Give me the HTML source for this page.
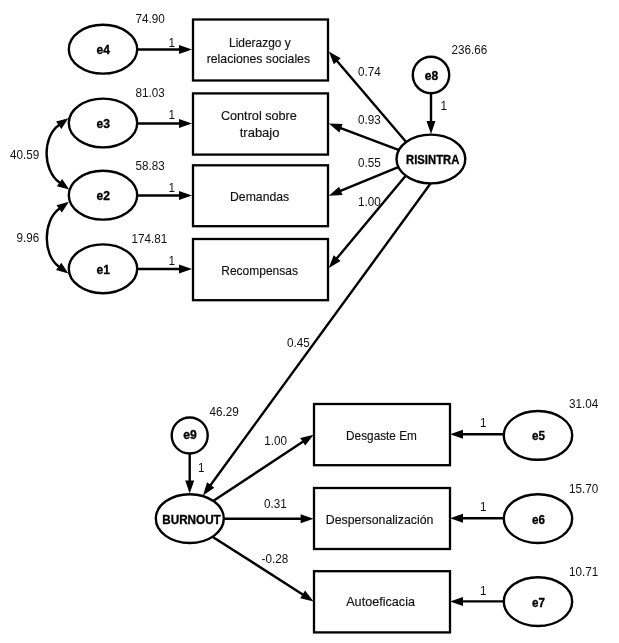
<!DOCTYPE html>
<html><head><meta charset="utf-8"><style>
html,body{margin:0;padding:0;background:#fff;}
svg{display:block;will-change:transform;}
.n{font-family:"Liberation Sans",sans-serif;fill:#111;}
.b{font-family:"Liberation Sans",sans-serif;fill:#111;stroke:#111;stroke-width:0.15px;}
.bl{font-family:"Liberation Sans",sans-serif;font-weight:bold;fill:#000;stroke:#000;stroke-width:0.35px;}
</style></head><body>
<svg width="619" height="643" viewBox="0 0 619 643">
<rect x="193" y="19.5" width="135" height="61.0" fill="#fff" stroke="#000" stroke-width="2.3"/>
<rect x="193" y="93.4" width="135" height="61.19999999999999" fill="#fff" stroke="#000" stroke-width="2.3"/>
<rect x="193" y="165.3" width="135" height="60.89999999999998" fill="#fff" stroke="#000" stroke-width="2.3"/>
<rect x="193" y="239" width="135" height="61.19999999999999" fill="#fff" stroke="#000" stroke-width="2.3"/>
<rect x="314" y="404" width="136" height="61.19999999999999" fill="#fff" stroke="#000" stroke-width="2.3"/>
<rect x="314" y="488" width="136" height="61" fill="#fff" stroke="#000" stroke-width="2.3"/>
<rect x="314" y="571.2" width="136" height="61.19999999999993" fill="#fff" stroke="#000" stroke-width="2.3"/>
<path d="M59.50,124.67 L58.69,125.25 C42.04,137.35 42.84,170.45 59.49,182.55 L60.30,183.13" fill="none" stroke="#000" stroke-width="2.4"/>
<polygon points="68.40,118.20 61.34,128.89 56.05,121.61" fill="#000"/>
<polygon points="69.20,189.60 56.85,186.19 62.14,178.91" fill="#000"/>
<path d="M60.00,208.27 L59.19,208.85 C43.00,220.62 42.50,254.68 58.69,266.45 L59.50,267.03" fill="none" stroke="#000" stroke-width="2.4"/>
<polygon points="68.90,201.80 61.84,212.49 56.55,205.21" fill="#000"/>
<polygon points="68.40,273.50 56.05,270.09 61.34,262.81" fill="#000"/>
<line x1="134.00" y1="49.50" x2="180.00" y2="49.50" stroke="#000" stroke-width="2.4"/>
<polygon points="192.00,49.50 179.00,54.00 179.00,45.00" fill="#000"/>
<line x1="134.00" y1="123.50" x2="180.00" y2="123.50" stroke="#000" stroke-width="2.4"/>
<polygon points="192.00,123.50 179.00,128.00 179.00,119.00" fill="#000"/>
<line x1="134.00" y1="195.50" x2="180.00" y2="195.50" stroke="#000" stroke-width="2.4"/>
<polygon points="192.00,195.50 179.00,200.00 179.00,191.00" fill="#000"/>
<line x1="134.00" y1="269.00" x2="180.00" y2="269.00" stroke="#000" stroke-width="2.4"/>
<polygon points="192.00,269.00 179.00,273.50 179.00,264.50" fill="#000"/>
<line x1="408.10" y1="144.24" x2="336.59" y2="60.52" stroke="#000" stroke-width="2.4"/>
<polygon points="328.80,51.40 340.66,58.36 333.82,64.21" fill="#000"/>
<line x1="401.74" y1="151.01" x2="340.03" y2="127.82" stroke="#000" stroke-width="2.4"/>
<polygon points="328.80,123.60 342.55,123.96 339.39,132.38" fill="#000"/>
<line x1="401.30" y1="165.77" x2="339.89" y2="191.21" stroke="#000" stroke-width="2.4"/>
<polygon points="328.80,195.80 339.09,186.67 342.53,194.98" fill="#000"/>
<line x1="407.56" y1="173.53" x2="336.48" y2="258.78" stroke="#000" stroke-width="2.4"/>
<polygon points="328.80,268.00 333.67,255.13 340.58,260.90" fill="#000"/>
<line x1="431.00" y1="90.00" x2="431.00" y2="122.00" stroke="#000" stroke-width="2.4"/>
<polygon points="431.00,134.00 426.50,121.00 435.50,121.00" fill="#000"/>
<line x1="432.16" y1="181.27" x2="210.07" y2="485.80" stroke="#000" stroke-width="2.4"/>
<polygon points="203.00,495.50 207.02,482.34 214.30,487.65" fill="#000"/>
<line x1="189.70" y1="450.00" x2="189.70" y2="481.50" stroke="#000" stroke-width="2.4"/>
<polygon points="189.70,493.50 185.20,480.50 194.20,480.50" fill="#000"/>
<line x1="210.86" y1="502.50" x2="303.58" y2="441.31" stroke="#000" stroke-width="2.4"/>
<polygon points="313.60,434.70 305.23,445.62 300.27,438.10" fill="#000"/>
<line x1="220.70" y1="518.80" x2="301.60" y2="518.80" stroke="#000" stroke-width="2.4"/>
<polygon points="313.60,518.80 300.60,523.30 300.60,514.30" fill="#000"/>
<line x1="210.83" y1="535.64" x2="303.49" y2="594.93" stroke="#000" stroke-width="2.4"/>
<polygon points="313.60,601.40 300.22,598.18 305.07,590.60" fill="#000"/>
<line x1="507.00" y1="434.20" x2="462.00" y2="434.20" stroke="#000" stroke-width="2.4"/>
<polygon points="450.00,434.20 463.00,429.70 463.00,438.70" fill="#000"/>
<line x1="507.00" y1="518.20" x2="462.00" y2="518.20" stroke="#000" stroke-width="2.4"/>
<polygon points="450.00,518.20 463.00,513.70 463.00,522.70" fill="#000"/>
<line x1="507.00" y1="601.40" x2="462.00" y2="601.40" stroke="#000" stroke-width="2.4"/>
<polygon points="450.00,601.40 463.00,596.90 463.00,605.90" fill="#000"/>
<ellipse cx="103" cy="49.2" rx="34.2" ry="24.4" fill="#fff" stroke="#000" stroke-width="2.4"/>
<ellipse cx="103" cy="123" rx="34.2" ry="24.4" fill="#fff" stroke="#000" stroke-width="2.4"/>
<ellipse cx="103" cy="195.2" rx="34.2" ry="24.4" fill="#fff" stroke="#000" stroke-width="2.4"/>
<ellipse cx="103" cy="268.8" rx="34.2" ry="24.4" fill="#fff" stroke="#000" stroke-width="2.4"/>
<ellipse cx="430.9" cy="159" rx="34.4" ry="24.4" fill="#fff" stroke="#000" stroke-width="2.4"/>
<circle cx="431" cy="75" r="18.2" fill="#fff" stroke="#000" stroke-width="2.4"/>
<ellipse cx="189.8" cy="518.6" rx="34" ry="24.4" fill="#fff" stroke="#000" stroke-width="2.4"/>
<circle cx="189.7" cy="435.5" r="18" fill="#fff" stroke="#000" stroke-width="2.4"/>
<ellipse cx="538" cy="435.4" rx="34.2" ry="24.4" fill="#fff" stroke="#000" stroke-width="2.4"/>
<ellipse cx="538" cy="518.6" rx="34.2" ry="24.4" fill="#fff" stroke="#000" stroke-width="2.4"/>
<ellipse cx="538" cy="601.6" rx="34.2" ry="24.4" fill="#fff" stroke="#000" stroke-width="2.4"/>
<text x="103.3" y="54.300000000000004" class="bl" text-anchor="middle" textLength="13.4" lengthAdjust="spacingAndGlyphs" style="font-size:12.8px">e4</text>
<text x="103.3" y="128.1" class="bl" text-anchor="middle" textLength="13.4" lengthAdjust="spacingAndGlyphs" style="font-size:12.8px">e3</text>
<text x="103.3" y="200.29999999999998" class="bl" text-anchor="middle" textLength="13.4" lengthAdjust="spacingAndGlyphs" style="font-size:12.8px">e2</text>
<text x="103.3" y="273.90000000000003" class="bl" text-anchor="middle" textLength="13.4" lengthAdjust="spacingAndGlyphs" style="font-size:12.8px">e1</text>
<text x="432.7" y="164.2" class="bl" text-anchor="middle" textLength="53.2" lengthAdjust="spacingAndGlyphs" style="font-size:12.8px">RISINTRA</text>
<text x="431.5" y="80" class="bl" text-anchor="middle" textLength="13.4" lengthAdjust="spacingAndGlyphs" style="font-size:12.8px">e8</text>
<text x="191.5" y="523.8" class="bl" text-anchor="middle" textLength="58.5" lengthAdjust="spacingAndGlyphs" style="font-size:12.8px">BURNOUT</text>
<text x="190" y="439.3" class="bl" text-anchor="middle" textLength="13.5" lengthAdjust="spacingAndGlyphs" style="font-size:12.8px">e9</text>
<text x="538.5" y="440.4" class="bl" text-anchor="middle" textLength="12.9" lengthAdjust="spacingAndGlyphs" style="font-size:12.8px">e5</text>
<text x="538.5" y="523.6" class="bl" text-anchor="middle" textLength="12.9" lengthAdjust="spacingAndGlyphs" style="font-size:12.8px">e6</text>
<text x="538.5" y="606.6" class="bl" text-anchor="middle" textLength="12.9" lengthAdjust="spacingAndGlyphs" style="font-size:12.8px">e7</text>
<text x="259.9" y="46.5" class="b" text-anchor="middle" textLength="61.6" lengthAdjust="spacingAndGlyphs" style="font-size:12.2px">Liderazgo y</text>
<text x="258.4" y="63" class="b" text-anchor="middle" textLength="103.3" lengthAdjust="spacingAndGlyphs" style="font-size:12.2px">relaciones sociales</text>
<text x="258.9" y="120.4" class="b" text-anchor="middle" textLength="76" lengthAdjust="spacingAndGlyphs" style="font-size:12.2px">Control sobre</text>
<text x="259.6" y="136.8" class="b" text-anchor="middle" textLength="39.8" lengthAdjust="spacingAndGlyphs" style="font-size:12.2px">trabajo</text>
<text x="259.6" y="200.7" class="b" text-anchor="middle" textLength="59.2" lengthAdjust="spacingAndGlyphs" style="font-size:12.2px">Demandas</text>
<text x="259.6" y="275" class="b" text-anchor="middle" textLength="76.6" lengthAdjust="spacingAndGlyphs" style="font-size:12.2px">Recompensas</text>
<text x="381.5" y="439.8" class="b" text-anchor="middle" textLength="70.8" lengthAdjust="spacingAndGlyphs" style="font-size:12.2px">Desgaste Em</text>
<text x="379.6" y="523.8" class="b" text-anchor="middle" textLength="107.6" lengthAdjust="spacingAndGlyphs" style="font-size:12.2px">Despersonalización</text>
<text x="380.6" y="606" class="b" text-anchor="middle" textLength="68.8" lengthAdjust="spacingAndGlyphs" style="font-size:12.2px">Autoeficacia</text>
<text x="135.5" y="23" class="n" textLength="29.27" lengthAdjust="spacingAndGlyphs" style="font-size:12.4px">74.90</text>
<text x="135.5" y="96.6" class="n" textLength="29.27" lengthAdjust="spacingAndGlyphs" style="font-size:12.4px">81.03</text>
<text x="135.5" y="169.6" class="n" textLength="29.27" lengthAdjust="spacingAndGlyphs" style="font-size:12.4px">58.83</text>
<text x="131.5" y="243.3" class="n" textLength="35.78" lengthAdjust="spacingAndGlyphs" style="font-size:12.4px">174.81</text>
<text x="10" y="159" class="n" textLength="29.27" lengthAdjust="spacingAndGlyphs" style="font-size:12.4px">40.59</text>
<text x="16.5" y="242" class="n" textLength="22.77" lengthAdjust="spacingAndGlyphs" style="font-size:12.4px">9.96</text>
<text x="168.5" y="46.7" class="n" textLength="6.51" lengthAdjust="spacingAndGlyphs" style="font-size:12.4px">1</text>
<text x="168.5" y="119.3" class="n" textLength="6.51" lengthAdjust="spacingAndGlyphs" style="font-size:12.4px">1</text>
<text x="168.5" y="192" class="n" textLength="6.51" lengthAdjust="spacingAndGlyphs" style="font-size:12.4px">1</text>
<text x="168.5" y="264.6" class="n" textLength="6.51" lengthAdjust="spacingAndGlyphs" style="font-size:12.4px">1</text>
<text x="451.5" y="53.8" class="n" textLength="35.78" lengthAdjust="spacingAndGlyphs" style="font-size:12.4px">236.66</text>
<text x="440.5" y="110" class="n" textLength="6.51" lengthAdjust="spacingAndGlyphs" style="font-size:12.4px">1</text>
<text x="358" y="76" class="n" textLength="22.77" lengthAdjust="spacingAndGlyphs" style="font-size:12.4px">0.74</text>
<text x="358" y="124.4" class="n" textLength="22.77" lengthAdjust="spacingAndGlyphs" style="font-size:12.4px">0.93</text>
<text x="358" y="167" class="n" textLength="22.77" lengthAdjust="spacingAndGlyphs" style="font-size:12.4px">0.55</text>
<text x="358" y="205.5" class="n" textLength="22.77" lengthAdjust="spacingAndGlyphs" style="font-size:12.4px">1.00</text>
<text x="287" y="347" class="n" textLength="22.77" lengthAdjust="spacingAndGlyphs" style="font-size:12.4px">0.45</text>
<text x="209.5" y="415.7" class="n" textLength="29.27" lengthAdjust="spacingAndGlyphs" style="font-size:12.4px">46.29</text>
<text x="198" y="472" class="n" textLength="6.51" lengthAdjust="spacingAndGlyphs" style="font-size:12.4px">1</text>
<text x="264.3" y="444.8" class="n" textLength="22.77" lengthAdjust="spacingAndGlyphs" style="font-size:12.4px">1.00</text>
<text x="264" y="507.5" class="n" textLength="22.77" lengthAdjust="spacingAndGlyphs" style="font-size:12.4px">0.31</text>
<text x="261.5" y="563" class="n" textLength="26.66" lengthAdjust="spacingAndGlyphs" style="font-size:12.4px">-0.28</text>
<text x="569" y="407.7" class="n" textLength="29.27" lengthAdjust="spacingAndGlyphs" style="font-size:12.4px">31.04</text>
<text x="569" y="493" class="n" textLength="29.27" lengthAdjust="spacingAndGlyphs" style="font-size:12.4px">15.70</text>
<text x="569" y="576" class="n" textLength="29.27" lengthAdjust="spacingAndGlyphs" style="font-size:12.4px">10.71</text>
<text x="480" y="427.4" class="n" textLength="6.51" lengthAdjust="spacingAndGlyphs" style="font-size:12.4px">1</text>
<text x="480" y="511" class="n" textLength="6.51" lengthAdjust="spacingAndGlyphs" style="font-size:12.4px">1</text>
<text x="480" y="594.5" class="n" textLength="6.51" lengthAdjust="spacingAndGlyphs" style="font-size:12.4px">1</text>
</svg>
</body></html>
